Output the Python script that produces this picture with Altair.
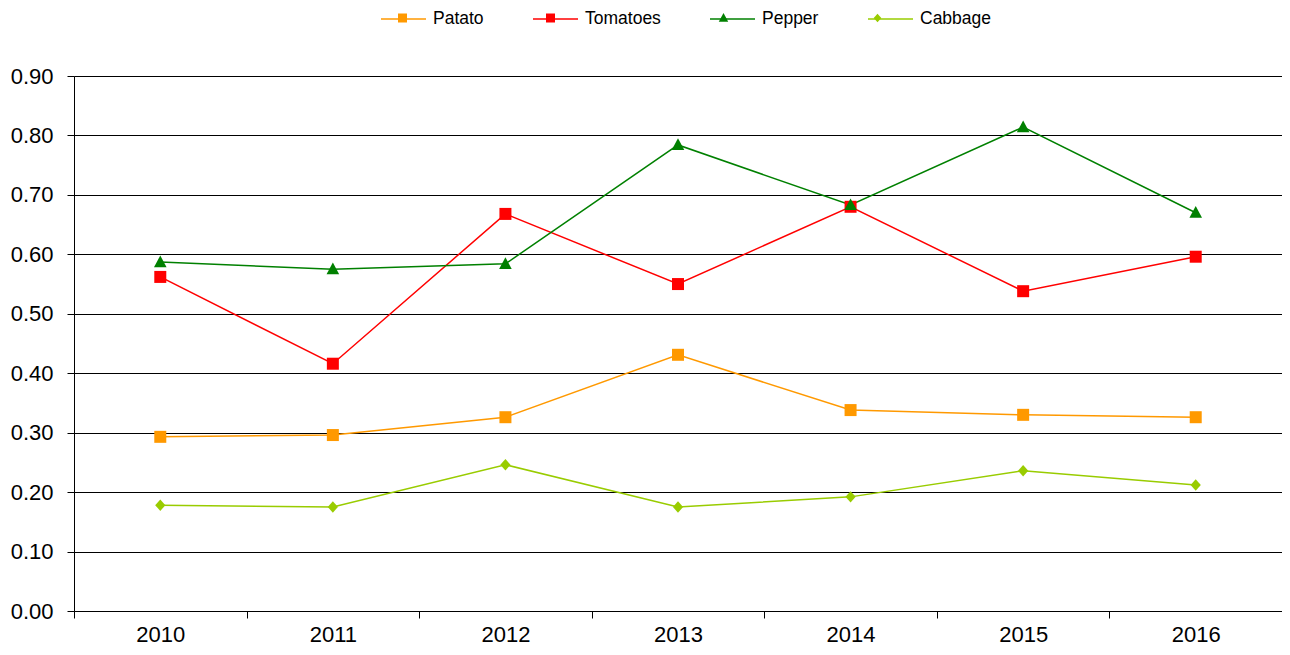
import altair as alt
import pandas as pd

years = ["2010", "2011", "2012", "2013", "2014", "2015", "2016"]
series_names = ["Patato", "Tomatoes", "Pepper", "Cabbage"]
colors = ["#FF9900", "#FF0000", "#008000", "#99CC00"]

patato = [0.293, 0.296, 0.326, 0.431, 0.338, 0.330, 0.326]
tomatoes = [0.562, 0.416, 0.668, 0.550, 0.680, 0.538, 0.596]
pepper = [0.587, 0.575, 0.584, 0.784, 0.683, 0.814, 0.670]
cabbage = [0.178, 0.175, 0.246, 0.175, 0.192, 0.236, 0.212]

y_ticks = [0.0, 0.1, 0.2, 0.3, 0.4, 0.5, 0.6, 0.7, 0.8, 0.9]

# marker shapes (custom SVG paths in the [-1,1] symbol box)
square = "M-0.2,-0.2H0.2V0.2H-0.2Z"
triangle = "M0,-0.22L0.21,0.17L-0.21,0.17Z"
diamond = "M0,-0.19L0.17,0L0,0.19L-0.17,0Z"
shapes = [square, square, triangle, diamond]

marker_names = [n + "_m" for n in series_names]

rows = []
for name, vals in zip(series_names, [patato, tomatoes, pepper, cabbage]):
    for yr, v in zip(years, vals):
        rows.append({"year": yr, "series": name, "series_m": name + "_m", "value": v})
df = pd.DataFrame(rows)

PAD_LEFT = 66
PLOT_W = 1208
LEG_X = 380 - 8 - PAD_LEFT
LEG_Y = -80.5
common_legend = dict(
    title=None,
    orient="none",
    direction="horizontal",
    legendX=LEG_X,
    legendY=LEG_Y,
    symbolSize=2025,
    labelFontSize=17.5,
    labelFont="Liberation Sans",
    labelColor="black",
    labelOffset=6,
    columnPadding=46,
    padding=0,
)

x_enc = alt.X(
    "year:O",
    title=None,
    bandPosition=0.5,
    scale=alt.Scale(type="band", paddingInner=0, paddingOuter=0),
    axis=alt.Axis(
        tickBand="extent",
        labelAngle=0,
        labelFontSize=22,
        labelFont="Liberation Sans",
        labelColor="black",
        tickColor="black",
        domainColor="black",
        tickSize=7,
        labelPadding=6,
        grid=False,
    ),
)
y_enc = alt.Y(
    "value:Q",
    title=None,
    scale=alt.Scale(domain=[0, 0.9], nice=False),
    axis=alt.Axis(
        values=y_ticks,
        format=".2f",
        labelFontSize=22,
        labelFont="Liberation Sans",
        labelColor="black",
        tickColor="black",
        domainColor="black",
        gridColor="black",
        gridWidth=1,
        gridOpacity=1,
        tickSize=7,
        labelPadding=14,
    ),
)

lines = alt.Chart(df).mark_line(strokeWidth=1.5).encode(
    x=x_enc,
    y=y_enc,
    color=alt.Color(
        "series:N",
        scale=alt.Scale(domain=series_names, range=colors),
        sort=series_names,
        legend=alt.Legend(
            symbolType="M-1,0L1,0",
            symbolStrokeWidth=1.5,
            **common_legend,
        ),
    ),
)

marker_legend = alt.Legend(
    labelExpr="replace(datum.label, '_m', '')",
    labelOpacity=0,
    symbolStrokeWidth=0,
    symbolOpacity=1,
    **common_legend,
)

points = alt.Chart(df).mark_point(filled=True, size=3600, opacity=1).encode(
    x=x_enc,
    y=y_enc,
    fill=alt.Fill(
        "series_m:N",
        scale=alt.Scale(domain=marker_names, range=colors),
        sort=marker_names,
        legend=marker_legend,
    ),
    shape=alt.Shape(
        "series_m:N",
        scale=alt.Scale(domain=marker_names, range=shapes),
        sort=marker_names,
        legend=marker_legend,
    ),
)

chart = (
    alt.layer(lines, points)
    .properties(
        width=PLOT_W,
        height=535,
        autosize=alt.AutoSizeParams(type="none"),
        padding={"left": PAD_LEFT, "top": 68, "right": 0, "bottom": 36},
    )
    .configure_view(stroke=None)
    .configure(background="white")
)

chart.save("out.html", embed_options={"renderer": "svg", "actions": False})
